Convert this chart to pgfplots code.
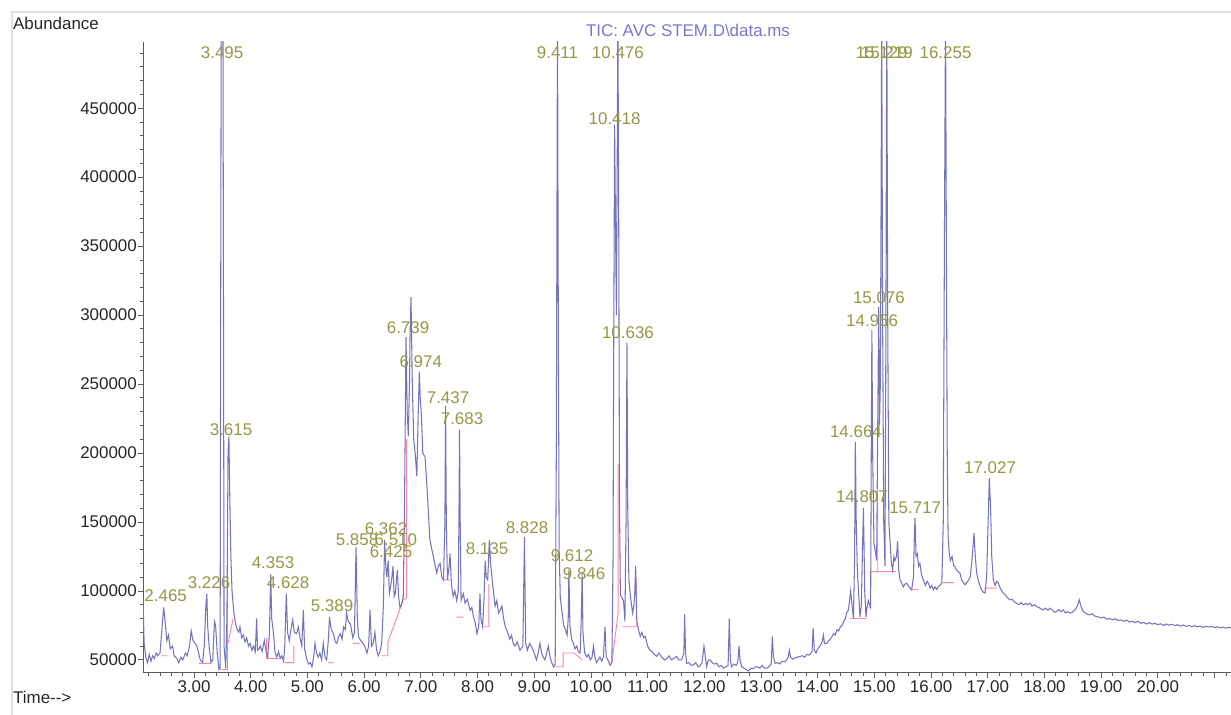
\documentclass[border=0pt]{standalone}
\usepackage{fontspec}
\setmainfont{Liberation Sans}
\usepackage{pgfplots}
\pgfplotsset{compat=1.18}
\definecolor{trace}{RGB}{116,116,188}
\definecolor{lbl}{RGB}{150,150,70}
\definecolor{pinkb}{RGB}{255,130,170}
\definecolor{ttl}{RGB}{120,120,205}
\definecolor{axc}{RGB}{90,90,90}
\begin{document}
\fontsize{17}{20}\selectfont
\begin{tikzpicture}[x=1bp,y=1bp]
\useasboundingbox (0,0) rectangle (1231,715);
\draw[black!12, line width=1.5bp] (12,0) -- (12,703) -- (1231,703);
\begin{axis}[
  at={(143bp,42bp)}, anchor=south west,
  scale only axis, width=1088bp, height=631bp,
  xmin=2.1, xmax=21.29, ymin=40500, ymax=498000,
  axis x line*=bottom, axis y line*=left,
  axis line style={axc, line width=1bp, -},
  clip mode=individual,
  xtick={3,4,5,6,7,8,9,10,11,12,13,14,15,16,17,18,19,20},
  extra x ticks={21}, extra x tick labels={},
  minor xtick={2.2,2.4,2.6,2.8,3.2,3.4,3.6,3.8,4.2,4.4,4.6,4.8,5.2,5.4,5.6,5.8,6.2,6.4,6.6,6.8,7.2,7.4,7.6,7.8,8.2,8.4,8.6,8.8,9.2,9.4,9.6,9.8,10.2,10.4,10.6,10.8,11.2,11.4,11.6,11.8,12.2,12.4,12.6,12.8,13.2,13.4,13.6,13.8,14.2,14.4,14.6,14.8,15.2,15.4,15.6,15.8,16.2,16.4,16.6,16.8,17.2,17.4,17.6,17.8,18.2,18.4,18.6,18.8,19.2,19.4,19.6,19.8,20.2,20.4,20.6,20.8,21.2},
  ytick={50000,100000,150000,200000,250000,300000,350000,400000,450000},
  minor ytick={60000,70000,80000,90000,110000,120000,130000,140000,160000,170000,180000,190000,210000,220000,230000,240000,260000,270000,280000,290000,310000,320000,330000,340000,360000,370000,380000,390000,410000,420000,430000,440000,460000,470000,480000,490000},
  scaled y ticks=false, scaled x ticks=false,
  tick align=outside,
  major tick length=5bp, minor tick length=3.5bp,
  tick style={axc, line width=0.8bp},
  ticklabel style={font=\fontsize{17}{20}\selectfont, text=black!85},
  /pgf/number format/assume math mode=true,
  xticklabel style={inner sep=2bp, /pgf/number format/fixed, /pgf/number format/fixed zerofill, /pgf/number format/precision=2},
  yticklabel style={inner sep=1bp, /pgf/number format/fixed, /pgf/number format/precision=0, /pgf/number format/set thousands separator={}},
]
\addplot[pinkb, line width=0.9bp, unbounded coords=jump] coordinates {
(2.42,53000) (2.53,53000) (2.53,nan)
(3.08,47500) (3.30,47500) (3.30,nan)
(3.47,43000) (3.59,43000) (3.59,130000) (3.59,nan)
(3.60,62000) (3.69,80000) (3.69,nan)
(4.28,66000) (4.28,51000) (4.50,51000) (4.50,nan)
(4.60,48000) (4.76,48000) (4.76,60000) (4.76,nan)
(5.37,48000) (5.45,48000) (5.45,nan)
(5.80,62000) (5.92,62000) (5.92,nan)
(6.30,53000) (6.42,53000) (6.42,63000) (6.69,93500) (6.75,95000) (6.75,210000) (6.75,nan)
(7.40,108000) (7.52,108000) (7.52,nan)
(7.63,81000) (7.75,81000) (7.75,nan)
(8.08,74000) (8.20,74000) (8.20,105000) (8.20,nan)
(9.34,45000) (9.51,45000) (9.51,55000) (9.70,55000) (9.85,50000) (9.85,nan)
(10.37,47600) (10.48,84000) (10.48,192000) (10.48,nan)
(10.55,74000) (10.80,74000) (10.80,110000) (10.80,nan)
(14.58,80000) (14.86,80000) (14.86,nan)
(14.90,88000) (14.93,88000) (14.93,114000) (15.38,114000) (15.38,nan)
(15.06,114000) (15.06,170000) (15.06,nan)
(15.66,101000) (15.77,101000) (15.77,nan)
(16.20,106000) (16.40,106000) (16.40,nan)
(16.96,102000) (17.15,102000)
};
\addplot[trace, line width=1.05bp] coordinates {
(2.10,95000) (2.12,62000) (2.15,52000) (2.18,48000) (2.21,54000) (2.24,49000) (2.27,53000) (2.30,51000) (2.33,55000) (2.36,53000) (2.40,55000) (2.43,70000) (2.465,88000) (2.49,78000) (2.52,64000) (2.55,68000) (2.58,58000) (2.62,60000) (2.65,53000) (2.70,51000) (2.73,48000) (2.77,52000) (2.80,50000) (2.85,55000) (2.88,53000) (2.92,60000) (2.95,71000) (2.98,64000) (3.02,62000) (3.05,60000) (3.08,55000) (3.11,50000) (3.15,48000) (3.18,60000) (3.21,90000) (3.226,98000) (3.24,75000) (3.27,58000) (3.30,48000) (3.33,50000) (3.36,78000) (3.38,75000) (3.41,55000) (3.44,43000) (3.46,44000) (3.47,300000) (3.48,520000) (3.51,520000) (3.52,300000) (3.53,60000) (3.56,44000) (3.58,80000) (3.60,200000) (3.615,212000) (3.63,170000) (3.65,125000) (3.67,100000) (3.70,85000) (3.73,77000) (3.76,72000)
(3.79,70000) (3.81,74000) (3.84,66000) (3.87,68000) (3.90,63000) (3.93,66000) (3.96,60000) (3.99,62000) (4.02,57000) (4.05,60000) (4.08,56000) (4.105,80000) (4.12,57000) (4.15,58000) (4.17,60000) (4.20,56000) (4.24,64000) (4.27,56000) (4.30,52000) (4.33,70000) (4.353,112000) (4.37,80000) (4.40,70000) (4.43,55000) (4.46,52000) (4.49,56000) (4.52,51000) (4.55,53000) (4.58,49000) (4.60,60000) (4.628,98000) (4.65,70000) (4.68,64000) (4.71,72000) (4.74,79000) (4.77,70000) (4.81,69000) (4.84,74000) (4.87,66000) (4.90,60000) (4.928,86000) (4.95,58000) (4.99,50000) (5.02,47000) (5.05,48000) (5.08,45000) (5.11,52000) (5.134,62000) (5.16,55000) (5.19,52000) (5.22,55000) (5.25,50000) (5.28,62000) (5.31,52000) (5.34,50000) (5.37,65000) (5.389,81000) (5.42,72000) (5.46,69000) (5.49,63000) (5.52,62000) (5.55,67000) (5.58,69000) (5.61,65000) (5.64,74000) (5.67,72000) (5.69,84000) (5.72,78000) (5.76,76000) (5.80,66000) (5.83,70000) (5.858,132000) (5.88,80000) (5.90,67000) (5.94,64000) (5.98,62000) (6.01,60000) (6.05,55000) (6.08,60000) (6.104,86000) (6.13,60000) (6.16,62000) (6.19,70000) (6.22,57000) (6.25,53000) (6.28,56000) (6.31,62000) (6.34,90000) (6.362,137000) (6.38,120000) (6.40,110000) (6.425,122000) (6.445,98000) (6.47,104000) (6.49,110000) (6.51,118000) (6.53,96000) (6.55,98000) (6.57,108000) (6.586,115000) (6.61,95000) (6.633,88000) (6.66,90000) (6.69,96000) (6.71,150000) (6.725,220000) (6.739,284000) (6.76,230000) (6.78,212000) (6.80,250000) (6.81,285000) (6.827,313000) (6.85,250000) (6.875,210000) (6.90,200000) (6.93,183000) (6.955,230000) (6.974,259000) (6.99,240000) (7.01,228000) (7.035,200000) (7.075,197000) (7.115,171000) (7.16,137000) (7.22,125000) (7.28,113000) (7.31,118000) (7.34,120000) (7.37,110000) (7.40,108000) (7.425,150000) (7.437,234000) (7.45,150000) (7.47,108000) (7.50,118000) (7.515,127000) (7.54,105000) (7.57,96000) (7.60,100000) (7.633,93000) (7.66,100000) (7.672,150000) (7.683,217000) (7.695,150000) (7.71,93000) (7.75,98000) (7.78,91000) (7.82,94000) (7.87,86000) (7.90,88000) (7.93,81000) (7.96,77000) (7.99,69000) (8.02,74000) (8.044,98000) (8.06,80000) (8.09,74000) (8.115,95000) (8.135,122000) (8.155,110000) (8.18,108000) (8.209,137000) (8.23,120000) (8.25,112000) (8.28,100000) (8.31,89000) (8.34,93000) (8.37,84000) (8.40,86000) (8.43,89000) (8.46,80000) (8.49,74000) (8.53,70000) (8.57,65000) (8.60,68000) (8.63,62000) (8.66,60000) (8.70,63000) (8.75,57000) (8.80,60000) (8.828,139000) (8.85,62000) (8.88,57000) (8.92,62000) (8.96,59000) (9.00,55000) (9.04,50000) (9.07,55000) (9.10,62000) (9.13,55000) (9.16,52000) (9.19,50000) (9.22,55000) (9.25,60000) (9.28,52000) (9.31,48000) (9.34,45000) (9.37,47000) (9.39,200000) (9.411,520000) (9.425,300000) (9.44,130000) (9.46,95000) (9.49,85000) (9.52,75000) (9.55,72000) (9.58,68000) (9.60,80000) (9.612,115000) (9.63,75000) (9.66,65000) (9.69,62000) (9.72,58000) (9.75,60000) (9.78,56000) (9.81,55000) (9.83,80000) (9.846,113000) (9.86,70000) (9.89,55000) (9.93,52000) (9.96,54000) (9.99,50000) (10.02,52000) (10.045,60000) (10.07,52000) (10.10,48000) (10.13,50000) (10.16,52000) (10.19,49000) (10.22,52000) (10.249,74000) (10.27,52000) (10.30,50000) (10.34,46000) (10.37,48000) (10.39,120000) (10.40,250000) (10.418,438000) (10.435,360000) (10.45,300000) (10.465,420000) (10.476,520000) (10.49,380000) (10.505,160000) (10.52,97000) (10.55,95000) (10.575,93000) (10.60,78000) (10.62,150000) (10.636,280000) (10.65,160000) (10.67,108000) (10.70,95000) (10.736,84000) (10.76,90000) (10.775,100000) (10.789,118000) (10.81,78000) (10.84,72000) (10.87,67000) (10.90,70000) (10.93,66000) (10.96,67000) (11.00,60000) (11.04,57000) (11.08,56000) (11.12,54000) (11.16,52500) (11.20,55000) (11.25,52000) (11.30,50000) (11.34,51000) (11.38,53000) (11.42,50000) (11.46,51000) (11.51,52500) (11.55,50000) (11.60,50000) (11.64,55000) (11.653,83000) (11.67,55000) (11.69,47500) (11.73,48000) (11.77,46000) (11.81,46500) (11.85,48000) (11.89,45000) (11.92,45500) (11.96,48000) (11.994,60000) (12.02,52000) (12.04,45000) (12.07,50000) (12.10,50000) (12.14,48000) (12.18,47000) (12.22,47500) (12.26,45000) (12.30,46000) (12.34,44000) (12.38,45000) (12.42,46000) (12.441,80000) (12.46,50000) (12.48,45000) (12.52,47000) (12.56,46000) (12.59,48000) (12.612,60000) (12.63,50000) (12.66,45000) (12.70,44000) (12.74,43000) (12.78,42000) (12.82,44000) (12.86,43500) (12.90,45000) (12.94,45000) (12.98,44000) (13.02,46000) (13.06,44000) (13.10,44000) (13.14,45000) (13.18,47000) (13.20,67000) (13.22,52000) (13.25,47500) (13.29,48000) (13.33,47000) (13.37,49000) (13.41,48500) (13.45,50000) (13.48,52000) (13.50,57000) (13.52,52000) (13.56,50500) (13.60,51500) (13.64,52000) (13.69,52500) (13.73,53000) (13.77,52000) (13.81,54000) (13.85,53500) (13.90,56000) (13.92,73000) (13.94,57000) (13.97,55000) (14.00,58000) (14.04,60000) (14.08,63000) (14.10,68000) (14.12,62000) (14.16,62000) (14.20,64000) (14.24,66000) (14.28,69000) (14.31,68000) (14.34,72000) (14.37,71000) (14.40,74000) (14.43,75000) (14.46,78000) (14.49,80000) (14.51,84000) (14.54,86000) (14.56,92000) (14.582,100000) (14.61,88000) (14.63,80000) (14.65,120000) (14.664,208000) (14.68,150000) (14.70,115000) (14.72,100000) (14.746,81000) (14.77,90000) (14.79,130000) (14.807,160000) (14.83,100000) (14.852,81000) (14.87,88000) (14.893,93000) (14.915,90000) (14.934,88000) (14.945,200000) (14.956,289000) (14.97,200000) (14.993,134000) (15.02,128000) (15.04,122000) (15.055,200000) (15.076,306000) (15.09,220000) (15.105,250000) (15.12,400000) (15.129,520000) (15.145,300000) (15.165,150000) (15.187,118000) (15.20,250000) (15.219,520000) (15.235,300000) (15.255,150000) (15.275,137000) (15.30,120000) (15.322,115000) (15.345,125000) (15.363,122000) (15.39,125000) (15.41,136000) (15.43,115000) (15.452,108000) (15.48,106000) (15.51,103000) (15.54,105000) (15.57,105600) (15.61,103000) (15.657,100800) (15.69,110000) (15.705,140000) (15.717,153000) (15.735,125000) (15.757,127000) (15.78,118000) (15.804,120000) (15.83,112000) (15.863,108000) (15.90,104000) (15.93,107000) (15.951,105600) (15.98,102000) (16.01,104000) (16.04,100800) (16.07,103000) (16.10,101000) (16.128,103200) (16.16,104000) (16.19,106000) (16.215,150000) (16.235,350000) (16.255,520000) (16.27,350000) (16.285,200000) (16.30,140000) (16.32,128000) (16.34,122000) (16.37,125000) (16.40,118000) (16.42,117700) (16.45,115000) (16.48,114000) (16.51,112800) (16.54,108000) (16.57,106000) (16.598,104400) (16.63,106000) (16.66,108000) (16.69,110000) (16.72,122000) (16.757,141800) (16.78,125000) (16.804,112800) (16.83,108000) (16.86,104000) (16.892,100800) (16.92,99000) (16.951,98400) (16.98,110000) (17.00,140000) (17.027,181700) (17.05,160000) (17.07,125000) (17.098,108000) (17.13,104000) (17.16,107000) (17.186,105600) (17.22,102000) (17.25,100000) (17.274,98400) (17.31,97000) (17.35,95000) (17.392,93500) (17.43,94000) (17.47,92000) (17.51,91100) (17.55,90000) (17.59,91500) (17.627,89900) (17.67,91000) (17.70,90000) (17.744,91100) (17.78,89000) (17.82,90000) (17.862,88700) (17.90,88000) (17.94,87000) (17.98,86300) (18.02,87500) (18.06,86000) (18.097,87500) (18.14,86000) (18.18,84500) (18.215,85100) (18.25,86500) (18.29,85000) (18.332,86300) (18.37,84000) (18.41,85000) (18.45,83900) (18.49,84500) (18.538,86300) (18.58,89000) (18.614,93500) (18.65,88000) (18.685,85100) (18.72,84000) (18.76,83000) (18.80,82700) (18.84,83500) (18.88,82000) (18.92,81400) (18.96,81000) (19.00,80400) (19.05,81000) (19.10,79500) (19.15,80000) (19.20,79000) (19.25,79800) (19.30,78500) (19.35,79000) (19.40,78000) (19.45,78800) (19.50,77500) (19.55,78000) (19.60,77000) (19.65,78000) (19.70,76500) (19.75,77200) (19.80,76000) (19.85,77000) (19.90,76000) (19.95,76500) (20.00,75500) (20.05,76200) (20.10,75000) (20.15,76000) (20.20,75200) (20.25,75800) (20.30,74800) (20.35,75500) (20.40,74500) (20.45,75300) (20.50,74300) (20.55,75000) (20.60,74000) (20.65,74800) (20.70,74000) (20.75,74500) (20.80,73500) (20.85,74300) (20.90,73800) (20.95,74200) (21.00,73500) (21.05,74000) (21.10,73200) (21.15,73800) (21.20,73000) (21.25,73600) (21.29,73000)
};
\begin{scope}[every node/.style={text=lbl, anchor=base, inner sep=0pt}]
\node at (axis cs:3.495,486200) {3.495};
\node at (axis cs:9.411,486200) {9.411};
\node at (axis cs:10.476,486200) {10.476};
\node at (axis cs:15.129,486200) {15.129};
\node at (axis cs:15.219,486200) {15.219};
\node at (axis cs:16.255,486200) {16.255};
\node at (axis cs:10.418,438400) {10.418};
\node at (axis cs:3.653,213000) {3.615};
\node at (axis cs:2.50,92000) {2.465};
\node at (axis cs:3.265,101400) {3.226};
\node at (axis cs:4.393,116000) {4.353};
\node at (axis cs:4.66,101400) {4.628};
\node at (axis cs:5.434,84800) {5.389};
\node at (axis cs:5.875,132600) {5.858};
\node at (axis cs:6.386,140600) {6.362};
\node at (axis cs:6.56,132600) {6.510};
\node at (axis cs:6.474,123900) {6.425};
\node at (axis cs:6.775,287000) {6.739};
\node at (axis cs:7.0,262300) {6.974};
\node at (axis cs:7.48,236200) {7.437};
\node at (axis cs:7.727,221000) {7.683};
\node at (axis cs:8.168,126100) {8.135};
\node at (axis cs:8.873,142000) {8.828};
\node at (axis cs:9.667,121000) {9.612};
\node at (axis cs:9.88,108000) {9.846};
\node at (axis cs:10.654,283300) {10.636};
\node at (axis cs:15.08,308700) {15.076};
\node at (axis cs:14.96,292000) {14.956};
\node at (axis cs:14.675,211600) {14.664};
\node at (axis cs:14.78,163800) {14.807};
\node at (axis cs:15.72,155800) {15.717};
\node at (axis cs:17.04,185500) {17.027};
\end{scope}
\end{axis}
\node[anchor=base west, inner sep=0pt, text=black!85] at (13,685) {Abundance};
\node[anchor=base west, inner sep=0pt, text=black!85] at (13,11) {Time-\kern0pt-\kern0pt>};
\node[anchor=base, inner sep=0pt, text=ttl] at (688,678) {TIC: AVC STEM.D\textbackslash data.ms};
\end{tikzpicture}
\end{document}
